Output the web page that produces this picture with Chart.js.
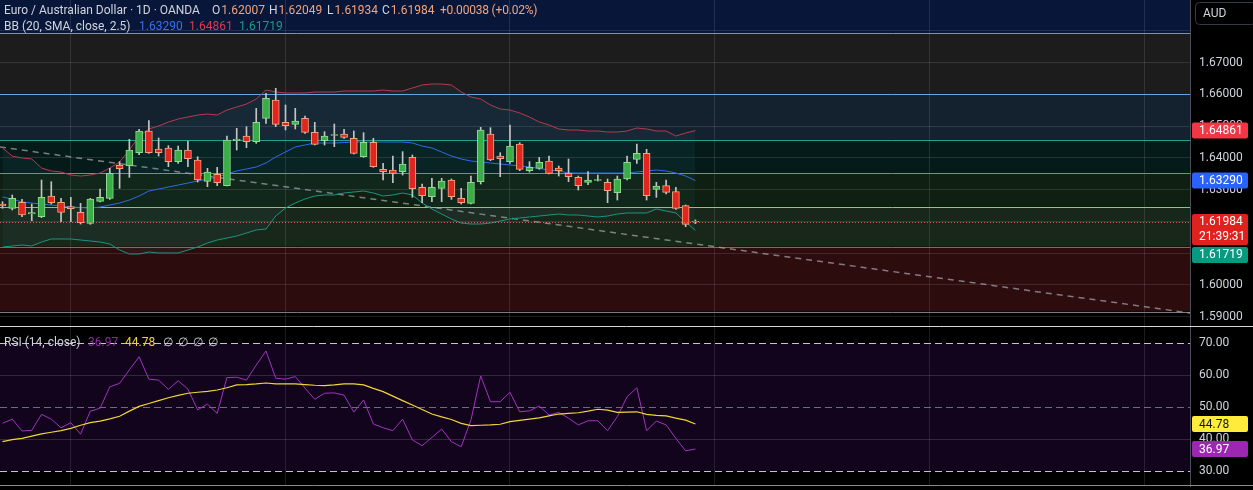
<!DOCTYPE html>
<html><head><meta charset="utf-8">
<script src="https://cdn.jsdelivr.net/npm/chart.js@4.4.1/dist/chart.umd.min.js"></script>
<style>
html,body{margin:0;padding:0;background:#000;overflow:hidden}
#wrap{position:relative;width:1253px;height:490px;background:#000}
#main{position:absolute;left:0;top:0}
#rsiC{position:absolute;left:0;top:326px}
.t{position:absolute;font:12px Roboto,sans-serif;line-height:14px;color:#d1d4dc;white-space:nowrap;pointer-events:none}
.v{color:#f2a47e}
</style></head>
<body><div id="wrap">
<canvas id="main" width="1253" height="326"></canvas>
<canvas id="rsiC" width="1253" height="164"></canvas>
<div class="t" style="left:4px;top:3px">Euro / Australian Dollar · 1D · OANDA</div>
<div class="t" style="left:212px;top:3px">O<span class="v" style="margin-left:1px">1.62007</span></div>
<div class="t" style="left:269px;top:3px">H<span class="v" style="margin-left:1px">1.62049</span></div>
<div class="t" style="left:327px;top:3px">L<span class="v" style="margin-left:1px">1.61934</span></div>
<div class="t" style="left:382px;top:3px">C<span class="v" style="margin-left:1px">1.61984</span></div>
<div class="t v" style="left:440px;top:3px;letter-spacing:-0.2px">+0.00038 (+0.02%)</div>
<div class="t" style="left:4px;top:19px">BB (20, SMA, close, 2.5)</div>
<div class="t" style="left:139px;top:19px;color:#3f6fe8">1.63290</div>
<div class="t" style="left:189px;top:19px;color:#e0384c">1.64861</div>
<div class="t" style="left:239px;top:19px;color:#1d9c86">1.61719</div>
<div class="t" style="left:4px;top:335px">RSI (14, close)</div>
<div class="t" style="left:88px;top:335px;color:#8e2ba6">36.97</div>
<div class="t" style="left:125px;top:335px;color:#f2d535">44.78</div>
<div class="t" style="left:163px;top:335px">∅</div>
<div class="t" style="left:178px;top:335px">∅</div>
<div class="t" style="left:193px;top:335px">∅</div>
<div class="t" style="left:208px;top:335px">∅</div>
</div>
<script>
// ---------- data ----------
const OPEN  = [1.62549,1.62413,1.62602,1.62234,1.62150,1.62801,1.62602,1.62465,1.62287,1.61940,
1.62633,1.62728,1.63767,1.63757,1.64166,1.64849,1.64282,1.64313,1.63883,1.64250,
1.63935,1.63263,1.63484,1.63127,1.64544,1.64691,1.64513,1.65248,1.65825,1.65122,
1.65059,1.65248,1.64807,1.64544,1.64712,1.64754,1.64618,1.64040,1.64492,1.63641,
1.63620,1.63568,1.64019,1.63074,1.62780,1.63043,1.63305,1.62728,1.62570,1.63253,
1.64754,1.64061,1.63883,1.64439,1.63599,1.63673,1.63904,1.63683,1.63515,1.63389,
1.63232,1.63295,1.63232,1.62906,1.63337,1.63956,1.64145,1.63011,1.63127,1.62938,
1.62497,1.62007];
const HIGH  = [1.62623,1.62833,1.62696,1.62549,1.63305,1.63253,1.62728,1.62759,1.62570,1.62728,
1.63022,1.63673,1.63883,1.64586,1.64901,1.65174,1.64628,1.64387,1.64376,1.64534,
1.64040,1.63673,1.63704,1.64691,1.64933,1.64985,1.65562,1.66035,1.66193,1.65668,
1.65562,1.65321,1.65122,1.64828,1.65069,1.64901,1.64849,1.64796,1.64618,1.63830,
1.64061,1.64198,1.64093,1.63179,1.63358,1.63358,1.63337,1.63043,1.63431,1.64964,
1.64954,1.64166,1.65038,1.64481,1.63883,1.64019,1.64061,1.63746,1.63967,1.63431,
1.63568,1.63463,1.63337,1.63431,1.64061,1.64439,1.64271,1.63232,1.63305,1.63074,
1.62518,1.62049];
const LOW   = [1.62413,1.62361,1.62150,1.62024,1.62119,1.62549,1.61993,1.61993,1.61919,1.61909,
1.62612,1.62696,1.63043,1.63389,1.64103,1.64145,1.64061,1.63725,1.63830,1.63725,
1.63242,1.63095,1.63127,1.63116,1.64250,1.64324,1.64460,1.65090,1.64985,1.64880,
1.64912,1.64775,1.64408,1.64408,1.64355,1.64618,1.64124,1.64019,1.63704,1.63305,
1.63221,1.63463,1.62759,1.62591,1.62623,1.62623,1.62696,1.62549,1.62549,1.63179,
1.63914,1.63410,1.63830,1.63599,1.63557,1.63641,1.63494,1.63431,1.63253,1.62990,
1.63158,1.63274,1.62591,1.62675,1.63305,1.63830,1.62675,1.62759,1.62864,1.62381,
1.61835,1.61934];
const CLOSE = [1.62486,1.62728,1.62203,1.62276,1.62759,1.62591,1.62287,1.62402,1.61961,1.62707,
1.62759,1.63515,1.63662,1.64250,1.64849,1.64166,1.64166,1.63883,1.64250,1.63977,
1.63305,1.63557,1.63221,1.64565,1.64597,1.64513,1.65122,1.65877,1.65059,1.65017,
1.65164,1.64807,1.64429,1.64691,1.64733,1.64649,1.64145,1.64492,1.63725,1.63568,
1.63515,1.63809,1.63032,1.62812,1.63074,1.63274,1.62780,1.62591,1.63232,1.64880,
1.63935,1.63977,1.64376,1.63641,1.63704,1.63862,1.63515,1.63599,1.63410,1.63127,
1.63305,1.63316,1.62969,1.63337,1.63862,1.64145,1.62812,1.63116,1.62917,1.62413,
1.61909,1.61984];
const BB_UPPER = [1.64313,1.64061,1.63998,1.63967,1.63683,1.63589,1.63557,1.63463,1.63431,1.63463,
1.63526,1.63683,1.63872,1.64250,1.64691,1.64912,1.65006,1.65132,1.65227,1.65290,
1.65353,1.65384,1.65353,1.65510,1.65605,1.65699,1.65857,1.66140,1.66077,1.66046,
1.66046,1.66046,1.66077,1.66077,1.66077,1.66109,1.66109,1.66109,1.66109,1.66140,
1.66109,1.66109,1.66203,1.66298,1.66329,1.66329,1.66298,1.66077,1.65920,1.65857,
1.65668,1.65542,1.65510,1.65416,1.65290,1.65132,1.65038,1.64912,1.64880,1.64880,
1.64849,1.64849,1.64817,1.64817,1.64849,1.64943,1.64912,1.64849,1.64849,1.64691,
1.64786,1.64861];
const BB_BASIS = [1.62770,1.62707,1.62612,1.62581,1.62549,1.62518,1.62486,1.62455,1.62439,1.62423,
1.62455,1.62518,1.62581,1.62675,1.62801,1.62959,1.63022,1.63085,1.63148,1.63211,
1.63274,1.63337,1.63400,1.63494,1.63589,1.63652,1.63715,1.63841,1.64030,1.64187,
1.64345,1.64408,1.64471,1.64471,1.64471,1.64486,1.64502,1.64502,1.64502,1.64502,
1.64502,1.64502,1.64471,1.64376,1.64313,1.64187,1.64061,1.63967,1.63904,1.63872,
1.63841,1.63809,1.63778,1.63746,1.63715,1.63667,1.63620,1.63589,1.63526,1.63526,
1.63526,1.63526,1.63526,1.63526,1.63526,1.63557,1.63589,1.63620,1.63589,1.63526,
1.63431,1.63290];
const BB_LOWER = [1.61195,1.61226,1.61258,1.61226,1.61352,1.61447,1.61447,1.61447,1.61415,1.61384,
1.61352,1.61289,1.61100,1.60974,1.60974,1.61037,1.61006,1.61006,1.61006,1.61100,
1.61195,1.61320,1.61415,1.61478,1.61541,1.61636,1.61730,1.61762,1.62171,1.62423,
1.62581,1.62707,1.62801,1.62833,1.62833,1.62896,1.62927,1.62959,1.62896,1.62801,
1.62833,1.62896,1.62833,1.62580,1.62392,1.62234,1.62077,1.61950,1.61919,1.61919,
1.61950,1.62014,1.62077,1.62108,1.62140,1.62171,1.62203,1.62234,1.62203,1.62203,
1.62171,1.62140,1.62171,1.62234,1.62266,1.62266,1.62266,1.62392,1.62329,1.62266,
1.61982,1.61719];
const RSI = [45.0,46.3,42.6,42.8,47.8,46.3,43.6,45.2,41.6,48.8,
49.7,56.4,57.5,61.7,65.8,58.8,58.5,55.6,58.3,55.7,
49.2,51.0,48.1,59.3,59.4,58.5,63.2,67.6,59.1,58.8,
59.6,56.0,52.5,54.4,54.5,53.8,48.5,52.3,44.8,43.6,
42.7,46.3,39.8,38.0,40.6,43.2,39.25,37.7,46.0,59.8,
51.75,51.75,54.7,48.6,48.9,50.4,47.6,48.4,46.6,44.5,
45.8,45.8,42.7,47.1,53.3,56.1,42.7,45.7,44.5,40.3,
36.4,36.97];
const RSI_MA = [39.3,39.9,40.3,41.0,41.7,42.2,42.7,43.4,44.4,45.2,
45.7,46.4,47.2,48.8,50.3,51.2,52.1,53.0,53.75,54.4,
54.7,55.0,55.4,56.1,57.0,57.1,57.3,57.6,57.3,57.3,
57.3,57.1,56.9,56.8,57.0,57.3,57.3,57.0,55.9,54.9,
53.5,52.1,50.7,49.3,47.9,47.0,46.2,45.0,44.3,44.4,
44.5,44.7,45.5,45.9,46.3,46.7,47.3,47.9,48.1,48.3,
48.8,49.4,49.1,48.4,48.5,48.6,47.8,47.5,47.3,46.6,
46.0,44.78];
const PRICE_TICKS = [1.59,1.60,1.61,1.62,1.63,1.64,1.65,1.66,1.67,1.68];
const RSI_TICKS = [30,40,50,60,70];
const MONTH_TICKS = [7,29,52,73,95,117];
const FIB_LEVELS = [1.67926,1.66005,1.64565,1.63517,1.62465,1.61205,1.59157];
const TREND_X = [-0.26,121.68];
const TREND_Y = [1.64345,1.59116];
const TIMER = '21:39:31';
const CURRENCY = 'AUD';

// ---------- helpers ----------
Chart.defaults.font.family = 'Roboto';
const N = OPEN.length;
const idx = OPEN.map((_, i) => i);
const up = i => CLOSE[i] >= OPEN[i];
const X_MIN = -0.255, X_MAX = 121.68;
const GRID = 'rgba(255,255,255,0.11)';

function rr(ctx, x, y, w, h, r) {
  ctx.beginPath();
  ctx.moveTo(x + r, y); ctx.lineTo(x + w - r, y); ctx.quadraticCurveTo(x + w, y, x + w, y + r);
  ctx.lineTo(x + w, y + h - r); ctx.quadraticCurveTo(x + w, y + h, x + w - r, y + h);
  ctx.lineTo(x + r, y + h); ctx.quadraticCurveTo(x, y + h, x, y + h - r);
  ctx.lineTo(x, y + r); ctx.quadraticCurveTo(x, y, x + r, y); ctx.closePath();
}
// draws a price badge whose top is at y0; returns its bottom
function badge(ctx, scale, y0, lines, bg, fg) {
  const h = lines.length === 1 ? 16 : 31;
  ctx.fillStyle = bg; rr(ctx, scale.left + 2, y0, 56, h, 2); ctx.fill();
  ctx.fillStyle = fg; ctx.font = '12px Roboto'; ctx.textBaseline = 'middle'; ctx.textAlign = 'left';
  lines.forEach((t, k) => ctx.fillText(t, scale.left + 9, y0 + 8.5 + k * 15));
  return y0 + h;
}

const ZONE_COLORS = ['#08163a','#1c1c1d','#14212f','#041b1a','#0f1f11','#19261a','#2d0c0e','#000000'];
const FIB_LINE_COLORS = ['#8791a6','#64a6e8','#22a191','#4caf50','#86c988','#f23645','#787b86'];

const mainDeco = {
  id: 'mainDeco',
  beforeDraw(chart) {
    const {ctx, chartArea: a, scales: {y}} = chart;
    const ys = FIB_LEVELS.map(v => y.getPixelForValue(v));
    const edges = [a.top, ...ys, a.bottom];
    ctx.save();
    for (let k = 0; k < edges.length - 1; k++) {
      ctx.fillStyle = ZONE_COLORS[k];
      ctx.fillRect(a.left, edges[k], a.width, edges[k + 1] - edges[k]);
    }
    ctx.restore();
  },
  beforeDatasetsDraw(chart) {
    const {ctx, chartArea: a, scales: {y}} = chart;
    ctx.save();
    ctx.lineWidth = 1;
    FIB_LEVELS.forEach((v, k) => {
      const py = Math.round(y.getPixelForValue(v)) + 0.5;
      ctx.strokeStyle = FIB_LINE_COLORS[k];
      ctx.beginPath(); ctx.moveTo(a.left, py); ctx.lineTo(a.right, py); ctx.stroke();
    });
    ctx.restore();
  },
  afterDatasetsDraw(chart) {
    const {ctx, chartArea: a, scales: {y}} = chart;
    const py = Math.round(y.getPixelForValue(CLOSE[N - 1])) + 0.5;
    ctx.save();
    ctx.strokeStyle = 'rgba(238,112,82,0.85)'; ctx.lineWidth = 1; ctx.setLineDash([1, 2]);
    ctx.beginPath(); ctx.moveTo(a.left, py); ctx.lineTo(a.right, py); ctx.stroke();
    ctx.restore();
  },
  afterDraw(chart) {
    const {ctx, scales: {y}} = chart;
    ctx.save();
    // currency box
    ctx.fillStyle = '#000'; rr(ctx, y.left + 5.5, 2.5, 60, 22, 4); ctx.fill();
    ctx.strokeStyle = '#363a45'; ctx.lineWidth = 1; ctx.stroke();
    ctx.fillStyle = '#d1d4dc'; ctx.font = '12px Roboto'; ctx.textBaseline = 'middle';
    ctx.fillText(CURRENCY, y.left + 13, 14);
    badge(ctx, y, y.getPixelForValue(BB_UPPER[N - 1]) - 8, [BB_UPPER[N - 1].toFixed(5)], '#f23645', '#fff');
    badge(ctx, y, y.getPixelForValue(BB_BASIS[N - 1]) - 8, [BB_BASIS[N - 1].toFixed(5)], '#2962ff', '#fff');
    const closeBottom = badge(ctx, y, y.getPixelForValue(CLOSE[N - 1]) - 8, [CLOSE[N - 1].toFixed(5), TIMER], '#e0221f', '#fff');
    // lower band badge is pushed below the price badge to avoid overlap
    const lowTop = Math.max(y.getPixelForValue(BB_LOWER[N - 1]) - 8, closeBottom + 2);
    badge(ctx, y, lowTop, [BB_LOWER[N - 1].toFixed(5)], '#089981', '#fff');
    ctx.restore();
  }
};

const lineDs = (label, arr, color, extra) => Object.assign({
  type: 'line', label, data: idx.map(i => ({x: i, y: arr[i]})), borderColor: color,
  borderWidth: 1, pointRadius: 0, tension: 0, fill: false
}, extra || {});

new Chart(document.getElementById('main'), {
  type: 'bar',
  data: {
    datasets: [
      {type: 'bar', label: 'wick', data: idx.map(i => ({x: i, y: [LOW[i], HIGH[i]]})),
        backgroundColor: '#c4c4c4', borderWidth: 0, barThickness: 1, maxBarThickness: 1, grouped: false, order: 2},
      {type: 'bar', label: 'body', data: idx.map(i => ({x: i, y: [OPEN[i], CLOSE[i]]})),
        backgroundColor: idx.map(i => up(i) ? '#3aad48' : '#e0261f'),
        borderColor: idx.map(i => up(i) ? '#8fdc8f' : '#f4a47c'),
        borderWidth: 1, borderSkipped: false, barThickness: 7, maxBarThickness: 7, grouped: false, order: 1},
      lineDs('BB upper', BB_UPPER, '#b83a4b', {fill: '+2', backgroundColor: 'rgba(70,150,170,0.07)', order: 5}),
      lineDs('BB basis', BB_BASIS, '#2e6be6', {order: 4}),
      lineDs('BB lower', BB_LOWER, '#1b9482', {order: 5}),
      {type: 'line', label: 'trend', data: TREND_X.map((x, k) => ({x, y: TREND_Y[k]})),
        borderColor: 'rgba(170,170,170,0.7)', borderWidth: 1.5, borderDash: [6, 5], pointRadius: 0, fill: false, order: 10}
    ]
  },
  options: {
    responsive: false, animation: false, events: [],
    layout: {padding: 0},
    plugins: {legend: {display: false}, tooltip: {enabled: false}},
    scales: {
      x: {type: 'linear', min: X_MIN, max: X_MAX, offset: false,
        grid: {color: GRID, offset: false, drawTicks: false}, border: {display: false},
        ticks: {display: false},
        afterBuildTicks: s => { s.ticks = MONTH_TICKS.map(v => ({value: v})); },
        afterFit: s => { s.height = 0; s.paddingLeft = 0; s.paddingRight = 0; }},
      y: {type: 'linear', position: 'right', min: 1.587071, max: 1.689748,
        grid: {color: GRID, drawTicks: false}, border: {display: true, color: '#4a4d57'},
        ticks: {color: '#d1d4dc', font: {size: 12, family: 'Roboto'}, padding: 9,
          callback: v => Math.abs(v - 1.68) < 1e-6 ? '' : Number(v).toFixed(5)},
        afterBuildTicks: s => { s.ticks = PRICE_TICKS.map(v => ({value: v})); },
        afterFit: s => { s.width = 63; s.paddingTop = 0; s.paddingBottom = 0; }}
    }
  },
  plugins: [mainDeco]
});

const rsiDeco = {
  id: 'rsiDeco',
  beforeDraw(chart) {
    const {ctx, chartArea: a, scales: {y}} = chart;
    const t = y.getPixelForValue(70), b = y.getPixelForValue(30);
    ctx.save(); ctx.fillStyle = '#11041c'; ctx.fillRect(a.left, t, a.width, b - t); ctx.restore();
  },
  beforeDatasetsDraw(chart) {
    const {ctx, chartArea: a, scales: {y}} = chart;
    ctx.save(); ctx.lineWidth = 1; ctx.setLineDash([7, 4]);
    [[70, '#c3c5cc'], [50, 'rgba(150,152,165,0.7)'], [30, '#c3c5cc']].forEach(([v, c]) => {
      const py = Math.round(y.getPixelForValue(v)) + 0.5;
      ctx.strokeStyle = c; ctx.beginPath(); ctx.moveTo(a.left, py); ctx.lineTo(a.right, py); ctx.stroke();
    });
    ctx.restore();
  },
  afterDraw(chart) {
    const {ctx, scales: {y}, width} = chart;
    ctx.save();
    ctx.strokeStyle = '#d8d8d8'; ctx.lineWidth = 1;
    ctx.beginPath(); ctx.moveTo(0, 0.5); ctx.lineTo(width, 0.5); ctx.stroke();
    ctx.strokeStyle = '#8a8a8a';
    ctx.beginPath(); ctx.moveTo(0, 159.5); ctx.lineTo(width, 159.5); ctx.stroke();
    badge(ctx, y, y.getPixelForValue(RSI_MA[N - 1]) - 8, [RSI_MA[N - 1].toFixed(2)], '#ffeb3b', '#131722');
    badge(ctx, y, y.getPixelForValue(RSI[N - 1]) - 8, [RSI[N - 1].toFixed(2)], '#9c27b0', '#fff');
    ctx.restore();
  }
};

new Chart(document.getElementById('rsiC'), {
  type: 'line',
  data: {
    datasets: [
      lineDs('RSI-based MA', RSI_MA, '#f2d535', {borderWidth: 1.2, order: 1}),
      lineDs('RSI', RSI, '#a233c0', {order: 2})
    ]
  },
  options: {
    responsive: false, animation: false, events: [],
    layout: {padding: {bottom: 4}},
    plugins: {legend: {display: false}, tooltip: {enabled: false}},
    scales: {
      x: {type: 'linear', min: X_MIN, max: X_MAX, offset: false,
        grid: {color: GRID, offset: false, drawTicks: false}, border: {display: false},
        ticks: {display: false},
        afterBuildTicks: s => { s.ticks = MONTH_TICKS.map(v => ({value: v})); },
        afterFit: s => { s.height = 0; s.paddingLeft = 0; s.paddingRight = 0; }},
      y: {type: 'linear', position: 'right', min: 25.41, max: 75.41,
        grid: {drawTicks: false, color: c => (c.tick && (c.tick.value === 60 || c.tick.value === 40)) ? 'rgba(255,255,255,0.14)' : 'transparent'},
        border: {display: true, color: '#4a4d57'},
        ticks: {color: '#d1d4dc', font: {size: 12, family: 'Roboto'}, padding: 9, callback: v => Number(v).toFixed(2)},
        afterBuildTicks: s => { s.ticks = RSI_TICKS.map(v => ({value: v})); },
        afterFit: s => { s.width = 63; s.paddingTop = 0; s.paddingBottom = 0; }}
    }
  },
  plugins: [rsiDeco]
});
</script>
</body></html>
